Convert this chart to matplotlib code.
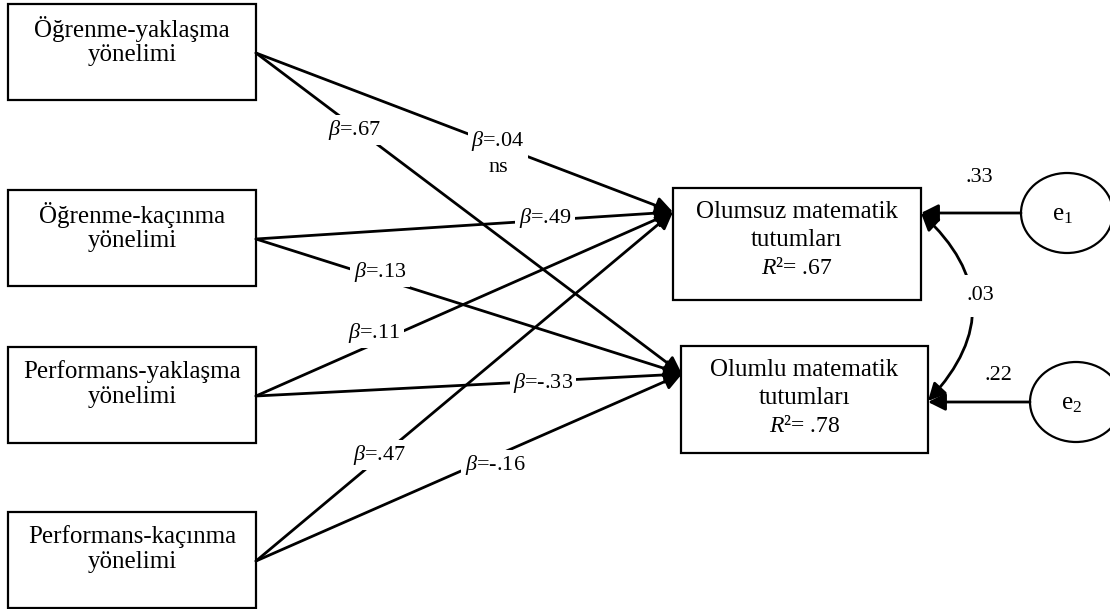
import matplotlib.pyplot as plt
from matplotlib.patches import Rectangle, Ellipse, FancyArrowPatch

plt.rcParams["font.family"] = ["Liberation Serif", "DejaVu Serif"]
plt.rcParams["mathtext.fontset"] = "custom"
plt.rcParams["mathtext.rm"] = "Liberation Serif"
plt.rcParams["mathtext.it"] = "Liberation Serif:italic"

# predictors and outcomes
predictors = ["Öğrenme-yaklaşma\nyönelimi", "Öğrenme-kaçınma\nyönelimi",
              "Performans-yaklaşma\nyönelimi", "Performans-kaçınma\nyönelimi"]
outcomes = ["Olumsuz matematik\ntutumları", "Olumlu matematik\ntutumları"]
r_squared = [".67", ".78"]
errors = ["e$_1$", "e$_2$"]
error_paths = [".33", ".22"]
error_cov = ".03"

# path coefficients: (predictor index, outcome index, beta, note)
paths = [
    (0, 0, ".04", "ns"),
    (0, 1, ".67", ""),
    (1, 0, ".49", ""),
    (1, 1, ".13", ""),
    (2, 0, ".11", ""),
    (2, 1, "-.33", ""),
    (3, 0, ".47", ""),
    (3, 1, "-.16", ""),
]

# layout (pixels)
pred_top = [4, 190, 347, 512]
out_box = [(673, 188, 248, 112), (681, 346, 247, 107)]
out_tip = [(673, 212), (682, 374)]
err_center = [(1067, 213), (1076, 402)]
label_pos = [(498, 153), (355, 130), (545, 218), (380, 272),
             (374, 333), (543, 383), (380, 455), (495, 465)]

fig = plt.figure(figsize=(11.1, 6.09), dpi=100)
ax = fig.add_axes([0, 0, 1, 1])
ax.set_xlim(0, 1110)
ax.set_ylim(609, 0)
ax.axis("off")

# predictor boxes
for name, top in zip(predictors, pred_top):
    ax.add_patch(Rectangle((8, top), 248, 96, fill=False, lw=1.6, ec="black"))
    ax.text(132, top + 37, name, ha="center", va="center", fontsize=18,
            linespacing=1.12)

# outcome boxes
for name, r2, (x, y, w, h) in zip(outcomes, r_squared, out_box):
    ax.add_patch(Rectangle((x, y), w, h, fill=False, lw=1.6, ec="black"))
    ax.text(x + w / 2, y + 38, name, ha="center", va="center", fontsize=18,
            linespacing=1.32)
    ax.text(x + w / 2, y + 80, "$R$²= " + r2, ha="center", va="center",
            fontsize=17)

# paths
for (pi, oi, beta, note), (lx, ly) in zip(paths, label_pos):
    start = (256, pred_top[pi] + 49)
    ax.add_patch(FancyArrowPatch(start, out_tip[oi], arrowstyle="-|>",
                                 mutation_scale=26, lw=2.0, color="black",
                                 shrinkA=0, shrinkB=0, zorder=2))
    txt = r"$\beta$=" + beta + ("\n" + note if note else "")
    ax.text(lx, ly, txt, ha="center", va="center", fontsize=16,
            linespacing=1.3, zorder=3,
            bbox=dict(boxstyle="square,pad=0.15", fc="white", ec="none"))

# error terms
for lab, val, (cx, cy), (x, y, w, h) in zip(errors, error_paths, err_center, out_box):
    ax.add_patch(Ellipse((cx, cy), 92, 80, fill=False, lw=1.6, ec="black"))
    ax.text(cx - 4, cy + 2, lab, ha="center", va="center", fontsize=18)
    ax.add_patch(FancyArrowPatch((cx - 46, cy), (x + w, cy), arrowstyle="-|>",
                                 mutation_scale=26, lw=2.0, color="black",
                                 shrinkA=0, shrinkB=0))
ax.text(979, 178, error_paths[0], ha="center", va="center", fontsize=16)
ax.text(998, 375, error_paths[1], ha="center", va="center", fontsize=16)

# covariance between errors
ax.add_patch(FancyArrowPatch((921, 213), (928, 401), arrowstyle="<|-|>",
                             connectionstyle="arc3,rad=-0.5",
                             mutation_scale=26, lw=2.0, color="black",
                             shrinkA=0, shrinkB=0))
ax.text(980, 296, error_cov, ha="center", va="center", fontsize=16, zorder=3,
        bbox=dict(boxstyle="square,pad=0.5", fc="white", ec="none"))

fig.savefig("out.png", dpi=100)
